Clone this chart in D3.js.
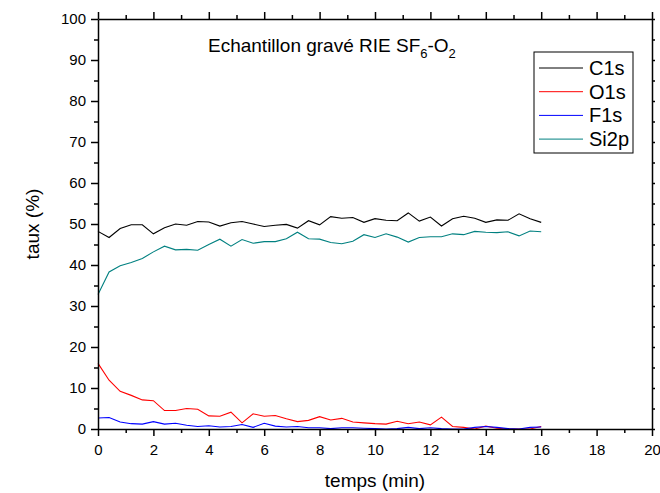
<!DOCTYPE html>
<html><head><meta charset="utf-8">
<script src="https://cdn.jsdelivr.net/npm/d3@7"></script>
<style>body{margin:0;background:#fff}svg{display:block}text{font-family:Arial,"Liberation Sans",sans-serif}</style>
</head><body>
<svg id="c" width="660" height="493"></svg>
<script>
const times = [0,0.4,0.8,1.2,1.6,2,2.4,2.8,3.2,3.6,4,4.4,4.8,5.2,5.6,6,6.4,6.8,7.2,7.6,8,8.4,8.8,9.2,9.6,10,10.4,10.8,11.2,11.6,12,12.4,12.8,13.2,13.6,14,14.4,14.8,15.2,15.6,16];
const c1s = [48.2,46.7,48.9,49.8,49.8,47.6,49.1,50.0,49.7,50.6,50.5,49.5,50.3,50.6,50.0,49.4,49.7,49.9,49.0,50.8,49.8,51.8,51.4,51.6,50.4,51.3,50.9,50.8,52.7,50.7,51.7,49.5,51.3,51.9,51.4,50.4,51.0,50.9,52.5,51.3,50.4];
const o1s = [16.0,11.9,9.2,8.2,7.1,6.9,4.5,4.5,5.0,4.8,3.2,3.1,4.1,1.5,3.7,3.1,3.3,2.5,1.8,2.1,3.0,2.2,2.6,1.7,1.5,1.3,1.2,1.9,1.3,1.7,1.0,2.9,0.6,0.4,0.0,0.7,0.2,0.0,0.0,0.0,0.6];
const f1s = [2.7,2.8,1.7,1.3,1.2,1.8,1.2,1.4,0.9,0.6,0.8,0.5,0.6,1.1,0.4,1.4,0.7,0.5,0.6,0.3,0.3,0.1,0.3,0.3,0.2,0.1,0.0,0.1,0.4,0.1,0.3,0.1,0.0,0.0,0.4,0.6,0.4,0.1,0.0,0.4,0.5];
const si2p = [32.8,38.3,39.8,40.6,41.6,43.2,44.6,43.7,43.8,43.6,45.0,46.3,44.6,46.2,45.3,45.7,45.7,46.4,48.0,46.4,46.3,45.5,45.2,45.8,47.4,46.7,47.6,46.8,45.6,46.7,46.9,46.9,47.6,47.4,48.2,48.0,47.9,48.1,47.1,48.3,48.1];
const seriesNames = ["C1s","O1s","F1s","Si2p"];
const seriesColors = ["#000000","#ff0000","#0000ff","#008080"];
const xTicks = [0,2,4,6,8,10,12,14,16,18,20];
const yTicks = [0,10,20,30,40,50,60,70,80,90,100];
const titleMain = "Echantillon gravé RIE SF";
const xLabel = "temps (min)";
const yLabel = "taux (%)";

const svg = d3.select("#c");
const L = 98, R = 652, T = 19, B = 429;
const x = d3.scaleLinear().domain([0,20]).range([L,R]);
const y = d3.scaleLinear().domain([0,100]).range([B,T]);
const seriesData = [c1s,o1s,f1s,si2p];

const line = d3.line().x((d,i)=>x(times[i])).y(d=>y(d));
seriesData.forEach((s,j)=>{
  svg.append("path").datum(s).attr("d",line).attr("fill","none")
    .attr("stroke",seriesColors[j]).attr("stroke-width",1.1);
});

function styleAxis(g){
  g.selectAll("path.domain").attr("stroke","#000").attr("stroke-width",1.5);
  g.selectAll(".tick line").attr("stroke","#000").attr("stroke-width",1.5);
  g.selectAll("text").attr("font-size","15px").attr("fill","#000").attr("font-family","Arial, 'Liberation Sans', sans-serif");
}
const xMinor = d3.range(1,20,2);
const yMinor = d3.range(5,100,10);

const gb = svg.append("g").attr("transform",`translate(0,${B})`)
  .call(d3.axisBottom(x).tickValues(xTicks).tickSize(7).tickSizeOuter(0).tickPadding(8));
styleAxis(gb);
svg.append("g").attr("transform",`translate(0,${B})`)
  .call(d3.axisBottom(x).tickValues(xMinor).tickSize(4).tickFormat("").tickSizeOuter(0))
  .call(g=>{g.select(".domain").remove();styleAxis(g);});
const gt = svg.append("g").attr("transform",`translate(0,${T})`)
  .call(d3.axisTop(x).tickValues(xTicks).tickSize(7).tickFormat("").tickSizeOuter(0));
styleAxis(gt);
svg.append("g").attr("transform",`translate(0,${T})`)
  .call(d3.axisTop(x).tickValues(xMinor).tickSize(4).tickFormat("").tickSizeOuter(0))
  .call(g=>{g.select(".domain").remove();styleAxis(g);});
const gl = svg.append("g").attr("transform",`translate(${L},0)`)
  .call(d3.axisLeft(y).tickValues(yTicks).tickSize(7).tickSizeOuter(0).tickPadding(5));
styleAxis(gl);
svg.append("g").attr("transform",`translate(${L},0)`)
  .call(d3.axisLeft(y).tickValues(yMinor).tickSize(4).tickFormat("").tickSizeOuter(0))
  .call(g=>{g.select(".domain").remove();styleAxis(g);});
const gr = svg.append("g").attr("transform",`translate(${R},0)`)
  .call(d3.axisRight(y).tickValues(yTicks).tickSize(3).tickFormat("").tickSizeOuter(0));
styleAxis(gr);
svg.append("g").attr("transform",`translate(${R},0)`)
  .call(d3.axisRight(y).tickValues(yMinor).tickSize(3).tickFormat("").tickSizeOuter(0))
  .call(g=>{g.select(".domain").remove();styleAxis(g);});

svg.append("text").attr("x",(L+R)/2).attr("y",487).attr("text-anchor","middle")
  .attr("font-size","19px").text(xLabel);
svg.append("text").attr("transform",`translate(39,${(T+B)/2}) rotate(-90)`).attr("text-anchor","middle")
  .attr("font-size","19px").text(yLabel);

const tt = svg.append("text").attr("x",208).attr("y",52).attr("font-size","19px");
tt.append("tspan").text(titleMain);
tt.append("tspan").attr("font-size","13px").attr("dy",6).text("6");
tt.append("tspan").attr("dy",-6).text("-O");
tt.append("tspan").attr("font-size","13px").attr("dy",6).text("2");

const lg = svg.append("g");
lg.append("rect").attr("x",534).attr("y",52).attr("width",99).attr("height",101)
  .attr("fill","#fff").attr("stroke","#000").attr("stroke-width",1);
seriesNames.forEach((n,i)=>{
  const yy = 68 + i*23.7;
  lg.append("line").attr("x1",539).attr("x2",583).attr("y1",yy).attr("y2",yy)
    .attr("stroke",seriesColors[i]).attr("stroke-width",1);
  lg.append("text").attr("x",589).attr("y",yy+7).attr("font-size","20px").text(n);
});
</script>
</body></html>
